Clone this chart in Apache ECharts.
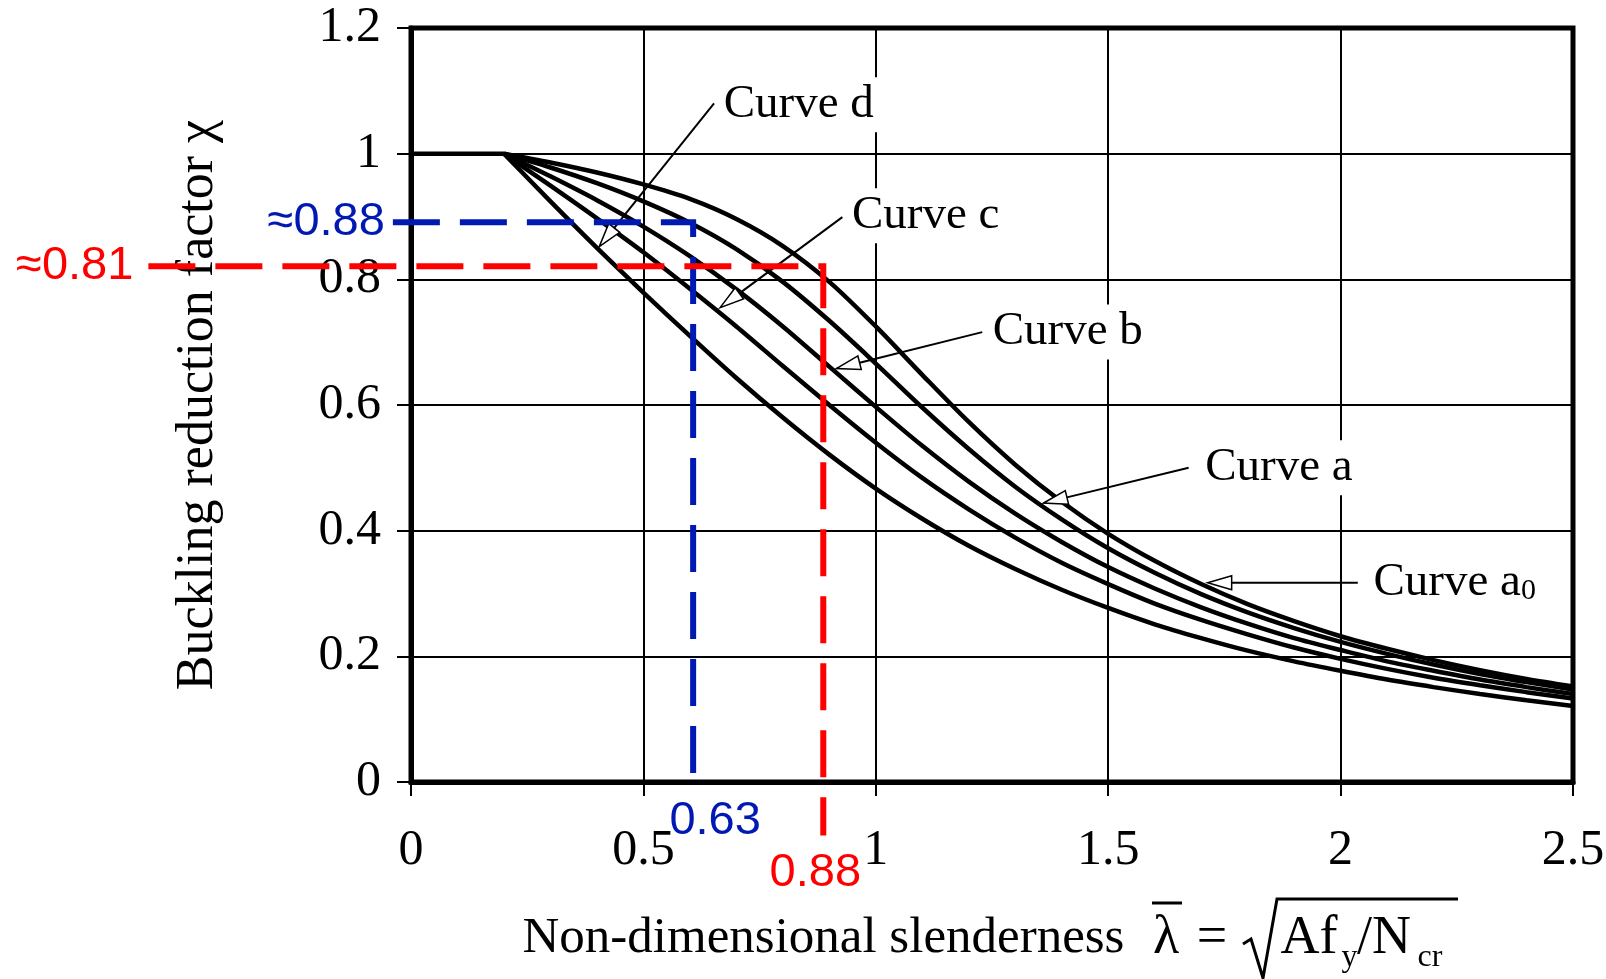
<!DOCTYPE html>
<html>
<head>
<meta charset="utf-8">
<script src="https://cdn.jsdelivr.net/npm/echarts@6/dist/echarts.min.js"></script>
<style>
html,body{margin:0;padding:0;background:#fff;}
#main{width:1606px;height:979px;}
</style>
</head>
<body>
<div id="main"></div>
<script>
// slenderness values (lambda bar) and reduction factor chi per buckling curve
var lambdaVals = [0.2, 0.3, 0.4, 0.5, 0.6, 0.7, 0.8, 0.9, 1.0, 1.1, 1.2, 1.3, 1.4, 1.5, 1.6, 1.7, 1.8, 1.9, 2.0, 2.1, 2.2, 2.3, 2.4, 2.5];
var plateauX = [0, 0.2];
var plateauY = [1, 1];
var curveA0 = [1, 0.986, 0.970, 0.951, 0.928, 0.896, 0.853, 0.796, 0.725, 0.648, 0.573, 0.505, 0.446, 0.395, 0.352, 0.315, 0.283, 0.256, 0.232, 0.212, 0.194, 0.178, 0.164, 0.152];
var curveA  = [1, 0.978, 0.953, 0.924, 0.890, 0.848, 0.796, 0.734, 0.666, 0.596, 0.530, 0.470, 0.418, 0.372, 0.333, 0.299, 0.270, 0.245, 0.223, 0.204, 0.187, 0.172, 0.159, 0.147];
var curveB  = [1, 0.964, 0.926, 0.884, 0.837, 0.784, 0.725, 0.661, 0.597, 0.535, 0.478, 0.427, 0.382, 0.342, 0.308, 0.278, 0.252, 0.229, 0.210, 0.192, 0.177, 0.163, 0.151, 0.140];
var curveC  = [1, 0.949, 0.897, 0.843, 0.785, 0.725, 0.662, 0.600, 0.540, 0.484, 0.434, 0.389, 0.349, 0.315, 0.284, 0.258, 0.235, 0.214, 0.196, 0.180, 0.166, 0.154, 0.143, 0.133];
var curveD  = [1, 0.924, 0.850, 0.779, 0.710, 0.643, 0.580, 0.521, 0.467, 0.419, 0.376, 0.339, 0.306, 0.277, 0.251, 0.229, 0.209, 0.192, 0.177, 0.163, 0.151, 0.140, 0.130, 0.121];

// curve labels with leader arrows (data coordinates)
var calloutNames = ['Curve d', 'Curve c', 'Curve b', 'Curve a', 'Curve a{sub|0}'];
var calloutTextX = [0.664, 0.940, 1.243, 1.700, 2.062];
var calloutTextY = [1.078, 0.901, 0.716, 0.500, 0.317];
var calloutTailX = [0.652, 0.928, 1.229, 1.673, 2.037];
var calloutTailY = [1.080, 0.899, 0.716, 0.500, 0.317];
var calloutTipX  = [0.405, 0.665, 0.915, 1.361, 1.714];
var calloutTipY  = [0.852, 0.755, 0.658, 0.444, 0.317];

// reading guides (dashed)
var guideColors = ['#0019b3', '#ff0000'];
var guideX      = [0.607, 0.887];
var guideY      = [0.891, 0.821];
var guideXStart = [-0.039, -0.565];
var guideYEnd   = [-0.013, -0.085];
var guideYLabel = ['≈0.88', '≈0.81'];
var guideXLabel = ['0.63', '0.88'];

var serif = '"Liberation Serif", "Times New Roman", serif';
var sans = '"Liberation Sans", Arial, sans-serif';

function pairs(xs, ys) {
    return xs.map(function (x, i) { return [x, ys[i]]; });
}

function curveSeries(name, vals) {
    return {
        name: name,
        type: 'line',
        data: pairs(lambdaVals, vals),
        smooth: 0.3,
        symbol: 'none',
        lineStyle: {color: '#000', width: 4.5},
        z: 3
    };
}

var myChart = echarts.init(document.getElementById('main'));

var option = {
    animation: false,
    backgroundColor: '#fff',
    grid: {left: 411, right: 33, top: 28, bottom: 197, show: true, borderColor: '#000', borderWidth: 5,
        containLabel: false, outerBoundsMode: 'none'},
    xAxis: {
        type: 'value', min: 0, max: 2.5, interval: 0.5,
        axisLine: {lineStyle: {color: '#000', width: 5}},
        axisTick: {show: true, length: 14, lineStyle: {color: '#000', width: 2}},
        axisLabel: {color: '#000', fontFamily: serif, fontSize: 50, margin: 44, showMinLabel: true, showMaxLabel: true},
        splitLine: {show: true, lineStyle: {color: '#000', width: 2}},
        name: '{m|Non-dimensional slenderness}{g|}{l|λ}{e|=}{sq|}{t|Af}{s|y}{n|/N}{c|cr}',
        nameLocation: 'middle',
        nameGap: 122,
        nameTextStyle: {
            color: '#000', fontFamily: serif, fontSize: 51, lineHeight: 70, padding: [0, 11, 0, 0],
            rich: {
                m: {fontFamily: serif, fontSize: 51, lineHeight: 70, width: 604, align: 'left', color: '#000'},
                g: {width: 24, lineHeight: 70},
                l: {fontFamily: serif, fontSize: 54, lineHeight: 70, width: 31, align: 'center', color: '#000'},
                e: {fontFamily: serif, fontSize: 54, lineHeight: 70, width: 61, align: 'center', color: '#000'},
                sq: {width: 35, lineHeight: 70},
                t: {fontFamily: serif, fontSize: 54, lineHeight: 70, width: 63, align: 'left', color: '#000'},
                s: {fontFamily: serif, fontSize: 32, lineHeight: 30, width: 18, align: 'left', verticalAlign: 'bottom', color: '#000'},
                n: {fontFamily: serif, fontSize: 54, lineHeight: 70, width: 51, align: 'left', color: '#000'},
                c: {fontFamily: serif, fontSize: 32, lineHeight: 30, width: 41, align: 'left', verticalAlign: 'bottom', color: '#000'}
            }
        }
    },
    yAxis: {
        type: 'value', min: 0, max: 1.2, interval: 0.2,
        axisLine: {lineStyle: {color: '#000', width: 5}},
        axisTick: {show: true, length: 14, lineStyle: {color: '#000', width: 2}},
        axisLabel: {color: '#000', fontFamily: serif, fontSize: 50, margin: 30},
        splitLine: {show: true, lineStyle: {color: '#000', width: 2}},
        name: 'Buckling reduction factor χ',
        nameLocation: 'middle',
        nameGap: 187,
        nameTextStyle: {color: '#000', fontFamily: serif, fontSize: 52}
    },
    // radical sign and over-bars of the x axis title
    graphic: [
        {type: 'line', shape: {x1: 1152, y1: 903, x2: 1182, y2: 903}, style: {stroke: '#000', lineWidth: 3}},
        {type: 'polyline', shape: {points: [[1243, 944], [1251, 939], [1263, 978], [1277, 899], [1458, 899]]},
            style: {stroke: '#000', lineWidth: 3, fill: null}}
    ],
    series: [
        {
            name: 'plateau', type: 'line', data: pairs(plateauX, plateauY), symbol: 'none',
            lineStyle: {color: '#000', width: 4.5}, z: 3
        },
        curveSeries('Curve a0', curveA0),
        curveSeries('Curve a', curveA),
        curveSeries('Curve b', curveB),
        curveSeries('Curve c', curveC),
        curveSeries('Curve d', curveD),
        {
            name: 'callouts',
            type: 'custom',
            data: pairs(calloutTipX, calloutTipY),
            z: 5,
            renderItem: function (params, api) {
                var i = params.dataIndex;
                var tail = api.coord([calloutTailX[i], calloutTailY[i]]);
                var tip = api.coord([calloutTipX[i], calloutTipY[i]]);
                var txt = api.coord([calloutTextX[i], calloutTextY[i]]);
                var dx = tip[0] - tail[0], dy = tip[1] - tail[1];
                var len = Math.sqrt(dx * dx + dy * dy);
                var ux = dx / len, uy = dy / len;
                var bx = tip[0] - ux * 24, by = tip[1] - uy * 24;
                var nx = -uy * 7, ny = ux * 7;
                return {
                    type: 'group',
                    children: [
                        {type: 'line', shape: {x1: tail[0], y1: tail[1], x2: bx, y2: by},
                            style: {stroke: '#000', lineWidth: 2}},
                        {type: 'polygon', shape: {points: [[tip[0], tip[1]], [bx + nx, by + ny], [bx - nx, by - ny]]},
                            style: {fill: '#fff', stroke: '#000', lineWidth: 1.5}},
                        {type: 'text', x: txt[0], y: txt[1], style: {
                            text: calloutNames[i], fill: '#000', fontFamily: serif, fontSize: 47,
                            align: 'left', verticalAlign: 'middle', backgroundColor: '#fff', padding: [4, 4],
                            rich: {sub: {fontFamily: serif, fontSize: 30, verticalAlign: 'bottom', fill: '#000'}}
                        }}
                    ]
                };
            }
        },
        {
            name: 'guides',
            type: 'custom',
            data: pairs(guideX, guideY),
            z: 6,
            renderItem: function (params, api) {
                var i = params.dataIndex;
                var a = api.coord([guideXStart[i], guideY[i]]);
                var c = api.coord([guideX[i], guideY[i]]);
                var e = api.coord([guideX[i], guideYEnd[i]]);
                var col = guideColors[i];
                var gap = i === 0 ? 8 : 15;
                var children = [
                    {type: 'polyline', shape: {points: [a, c, e]},
                        style: {stroke: col, lineWidth: 6, fill: null, lineDash: [47, 20]}},
                    {type: 'text', x: a[0] - gap, y: a[1], style: {
                        text: guideYLabel[i], fill: col, fontFamily: sans, fontSize: 47,
                        align: 'right', verticalAlign: 'middle'}}
                ];
                if (i === 0) {
                    children.push({type: 'text', x: c[0] + 22, y: e[1] + 31, style: {
                        text: guideXLabel[i], fill: col, fontFamily: sans, fontSize: 47,
                        align: 'center', verticalAlign: 'middle'}});
                } else {
                    children.push({type: 'text', x: c[0] - 8, y: e[1] + 38, style: {
                        text: guideXLabel[i], fill: col, fontFamily: sans, fontSize: 47,
                        align: 'center', verticalAlign: 'middle'}});
                }
                return {type: 'group', children: children};
            }
        }
    ]
};

myChart.setOption(option);
window.addEventListener('resize', function () {
    myChart.resize();
});
</script>
</body>
</html>
